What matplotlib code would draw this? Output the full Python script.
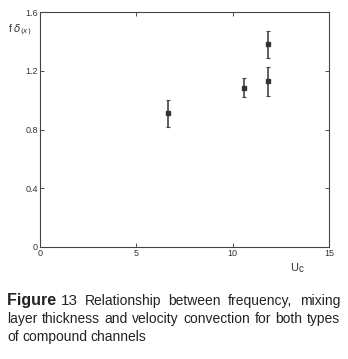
import numpy as np
import matplotlib
matplotlib.use("Agg")
import matplotlib.pyplot as plt

plt.rcParams["font.family"] = ["Liberation Sans", "DejaVu Sans"]

# values
uc = [6.65, 10.57, 11.82, 11.82]
f_delta = [0.91, 1.085, 1.385, 1.13]
err_low = [0.82, 1.02, 1.29, 1.03]
err_high = [1.00, 1.15, 1.47, 1.225]
x_ticks = [0, 5, 10, 15]
y_ticks = [0, 0.4, 0.8, 1.2, 1.6]

caption_lines = [
    ["Figure 13", "Relationship", "between", "frequency,", "mixing"],
    ["layer", "thickness", "and", "velocity", "convection", "for", "both", "types"],
    ["of", "compound", "channels"],
]

fig = plt.figure(figsize=(3.48, 3.59), dpi=100)
W, H = 348, 359
ax = fig.add_axes([40 / W, 1 - 247 / H, 289 / W, 235 / H])

yerr = [np.array(f_delta) - np.array(err_low), np.array(err_high) - np.array(f_delta)]
ax.errorbar(uc, f_delta, yerr=yerr, fmt="s", ms=3, color="#333333",
            ecolor="#444444", elinewidth=1.2, capsize=1.2, capthick=0.8)

ax.set_xlim(0, 15)
ax.set_ylim(0, 1.6)
ax.set_xticks(x_ticks)
ax.set_yticks(y_ticks)
ax.set_xticklabels([str(t) for t in x_ticks])
ax.set_yticklabels(["0", "0.4", "0.8", "1.2", "1.6"])
ax.tick_params(direction="in", top=True, right=True, labelsize=6.5,
               length=3, width=0.6, pad=1.5, colors="#333333")
for s in ax.spines.values():
    s.set_linewidth(0.8)
    s.set_color("#444444")

renderer = fig.canvas.get_renderer()

fig.text(8 / W, 1 - 33 / H, r"f $\delta_{(x)}$", fontsize=7.5, color="#333333")
u = fig.text(290 / W, 1 - 271 / H, "U", fontsize=8, color="#333333", va="baseline")
uw = u.get_window_extent(renderer).width
fig.text((290 + uw + 0.3) / W, 1 - 272 / H, "c", fontsize=7, color="#333333",
         va="baseline")

# justified caption
x_left, x_right = 7, 340
baselines = [305, 323, 341]
for i, words in enumerate(caption_lines):
    texts = []
    for w in words:
        if w == "Figure 13":
            t = fig.text(0, 0, "Figure ", fontsize=11.5, fontweight="bold", color="#222222")
            t2 = fig.text(0, 0, "13", fontsize=11, color="#222222")
            texts.append([t, t2])
        else:
            texts.append([fig.text(0, 0, w, fontsize=10, color="#222222")])
    widths = [sum(p.get_window_extent(renderer).width for p in grp) for grp in texts]
    if i < 2:
        gap = (x_right - x_left - sum(widths)) / (len(words) - 1)
    else:
        gap = 3.5
    x = x_left
    for grp, wd in zip(texts, widths):
        xx = x
        for p in grp:
            p.set_position((xx / W, 1 - baselines[i] / H))
            p.set_va("baseline")
            xx += p.get_window_extent(renderer).width
        x += wd + gap

fig.savefig("out.png", dpi=100)
